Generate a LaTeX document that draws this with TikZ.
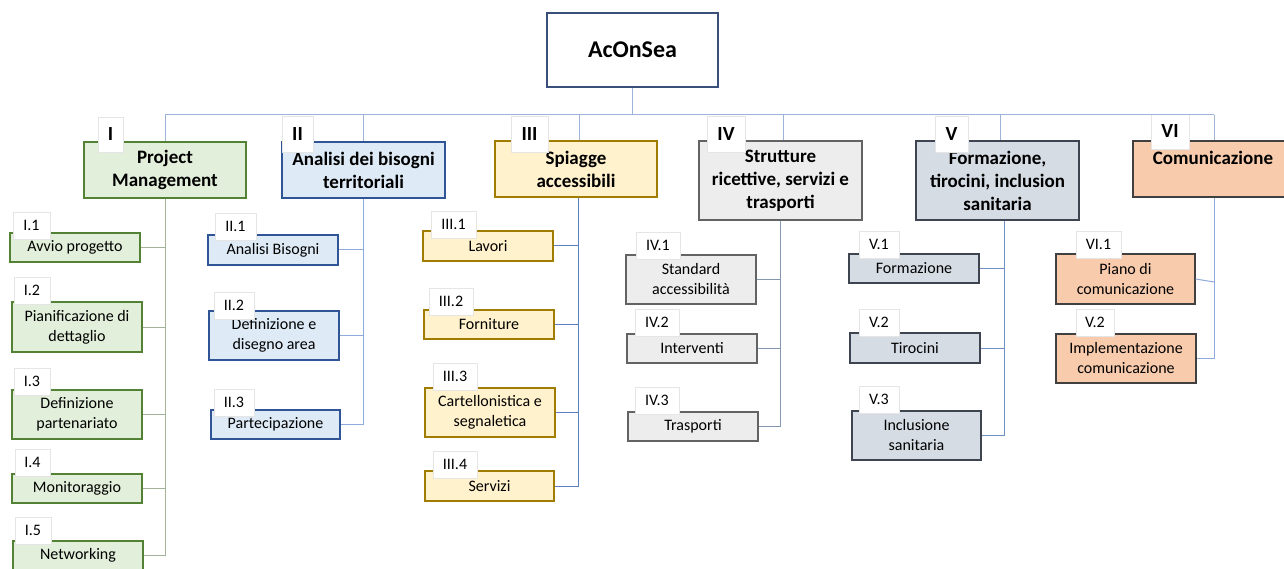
\documentclass[tikz,border=0pt]{standalone}
\usepackage{fontspec}
\setmainfont{Carlito}
\definecolor{fI}{HTML}{E2EFDA}\definecolor{dI}{HTML}{548235}
\definecolor{fII}{HTML}{DEEBF7}\definecolor{dII}{HTML}{2F5597}
\definecolor{fIII}{HTML}{FFF2CC}\definecolor{dIII}{HTML}{A07D00}
\definecolor{fIV}{HTML}{EDEDED}\definecolor{dIV}{HTML}{636363}
\definecolor{fV}{HTML}{D6DCE4}\definecolor{dV}{HTML}{3F4550}
\definecolor{fVI}{HTML}{F8CBAD}\definecolor{dVI}{HTML}{404040}
\definecolor{droot}{HTML}{3A4F7A}
\definecolor{cbus}{HTML}{9DB3D9}
\definecolor{cI}{HTML}{A3B39A}
\definecolor{cII}{HTML}{8FAADC}
\definecolor{cIII}{HTML}{5B7FC0}
\definecolor{cIV}{HTML}{8497B0}
\definecolor{cV}{HTML}{6F8FC8}
\definecolor{cVI}{HTML}{8FAADC}
\newcommand{\wbs}[7]{\node[#6, minimum width={(#4-#2)*1pt}, minimum height={(#5-#3)*1pt}] (#1) at ({(#2+#4)/2},{(#3+#5)/2}) {#7};}
\begin{document}
\begin{tikzpicture}[x=1pt,y=-1pt,
  box/.style={draw, line width=1.3pt, inner sep=0pt, align=center, font=\fontsize{16}{20}\selectfont},
  topbox/.style={box, font=\bfseries\fontsize{19}{23}\selectfont},
  rootbox/.style={box, draw=droot, fill=white, font=\bfseries\fontsize{24}{28}\selectfont},
  lab/.style={draw=black!10, fill=white, line width=0.6pt, inner sep=0pt, font=\fontsize{16}{20}\selectfont},
  toplab/.style={lab, font=\bfseries\fontsize{20}{24}\selectfont},
  gI/.style={fill=fI, draw=dI},
  gII/.style={fill=fII, draw=dII},
  gIII/.style={fill=fIII, draw=dIII},
  gIV/.style={fill=fIV, draw=dIV},
  gV/.style={fill=fV, draw=dV},
  gVI/.style={fill=fVI, draw=dVI},
  conn/.style={line width=1pt}]
\useasboundingbox (0,0) rectangle (1284,569);
\clip (0,0) rectangle (1284,569);
\fill[white] (0,0) rectangle (1284,569);
% root and top-level
\wbs{root}{547}{13}{718}{87}{rootbox}{AcOnSea}
\wbs{I}{84}{142}{246}{198}{topbox,gI}{Project\\Management}
\wbs{II}{282}{142}{445}{198}{topbox,gII}{Analisi dei bisogni\\territoriali}
\wbs{III}{495}{141}{657}{197}{topbox,gIII}{Spiagge\\accessibili}
\wbs{IV}{699}{141}{862}{220}{topbox,gIV}{Strutture\\ricettive, servizi e\\trasporti}
\wbs{V}{916}{141}{1079}{220}{topbox,gV}{Formazione,\\tirocini, inclusion\\sanitaria}
\wbs{VI}{1133}{141}{1293}{197}{topbox,gVI}{Comunicazione\\\mbox{}}
% sub boxes
\wbs{I1}{10}{233}{140}{262}{box,gI}{Avvio progetto}
\wbs{I2}{12}{302}{142}{352}{box,gI}{Pianificazione di\\dettaglio}
\wbs{I3}{12}{390}{142}{439}{box,gI}{Definizione\\partenariato}
\wbs{I4}{12}{474}{142}{503}{box,gI}{Monitoraggio}
\wbs{I5}{13}{541}{143}{570}{box,gI}{Networking}
\wbs{II1}{208}{235}{338}{265}{box,gII}{Analisi Bisogni}
\wbs{II2}{209}{311}{339}{360}{box,gII}{Definizione e\\disegno area}
\wbs{II3}{211}{410}{340}{439}{box,gII}{Partecipazione}
\wbs{III1}{423}{231}{553}{261}{box,gIII}{Lavori}
\wbs{III2}{424}{310}{554}{339}{box,gIII}{Forniture}
\wbs{III3}{425}{388}{555}{437}{box,gIII}{Cartellonistica e\\segnaletica}
\wbs{III4}{425}{471}{554}{501}{box,gIII}{Servizi}
\wbs{IV1}{626}{255}{756}{304}{box,gIV}{Standard\\accessibilità}
\wbs{IV2}{627}{334}{757}{363}{box,gIV}{Interventi}
\wbs{IV3}{628}{412}{758}{441}{box,gIV}{Trasporti}
\wbs{V1}{849}{254}{979}{283}{box,gV}{Formazione}
\wbs{V2}{850}{333}{980}{363}{box,gV}{Tirocini}
\wbs{V3}{852}{411}{981}{460}{box,gV}{Inclusione\\sanitaria}
\wbs{VI1}{1056}{254}{1195}{304}{box,gVI}{Piano di\\comunicazione}
\wbs{VI2}{1056}{334}{1196}{383}{box,gVI}{Implementazione\\comunicazione}
% labels
\wbs{LI}{98}{117}{123}{152}{toplab}{I}
\wbs{LII}{282}{116}{313}{152}{toplab}{II}
\wbs{LIII}{511}{116}{548}{152}{toplab}{III}
\wbs{LIV}{707}{116}{745}{152}{toplab}{IV}
\wbs{LV}{935}{116}{968}{152}{toplab}{V}
\wbs{LVI}{1151}{114}{1189}{149}{toplab}{VI}
\wbs{LI1}{13}{212}{50}{239}{lab}{I.1}
\wbs{LI2}{14}{277}{50}{304}{lab}{I.2}
\wbs{LI3}{14}{368}{50}{395}{lab}{I.3}
\wbs{LI4}{15}{449}{50}{476}{lab}{I.4}
\wbs{LI5}{15}{517}{51}{544}{lab}{I.5}
\wbs{LII1}{215}{213}{256}{240}{lab}{II.1}
\wbs{LII2}{214}{292}{254}{319}{lab}{II.2}
\wbs{LII3}{214}{389}{254}{416}{lab}{II.3}
\wbs{LIII1}{431}{211}{476}{238}{lab}{III.1}
\wbs{LIII2}{429}{288}{473}{315}{lab}{III.2}
\wbs{LIII3}{433}{363}{477}{390}{lab}{III.3}
\wbs{LIII4}{433}{451}{477}{478}{lab}{III.4}
\wbs{LIV1}{636}{232}{680}{259}{lab}{IV.1}
\wbs{LIV2}{635}{309}{679}{336}{lab}{IV.2}
\wbs{LIV3}{635}{387}{679}{414}{lab}{IV.3}
\wbs{LV1}{859}{231}{899}{258}{lab}{V.1}
\wbs{LV2}{859}{309}{899}{336}{lab}{V.2}
\wbs{LV3}{859}{386}{899}{413}{lab}{V.3}
\wbs{LVI1}{1076}{231}{1121}{258}{lab}{VI.1}
\wbs{LVI2}{1076}{309}{1114}{336}{lab}{V.2}
% connector coordinates
\coordinate (bus) at (0,115);
\coordinate (dI) at (165,0);   \coordinate (tI) at (165,0);
\coordinate (dII) at (363,0);  \coordinate (tII) at (363,0);
\coordinate (dIII) at (579,0); \coordinate (tIII) at (578,0);
\coordinate (dIV) at (783,0);  \coordinate (tIV) at (780,0);
\coordinate (dV) at (1000,0);  \coordinate (tV) at (1004,0);
\coordinate (dVI) at (1214,0); \coordinate (tVI) at (1214,0);
% top bus
\draw[conn,cbus] (root.south) -- (root.south |- bus);
\draw[conn,cbus] (dI |- bus) -- (dVI |- bus);
\foreach \n in {I,II,III,IV,V,VI}
  \draw[conn,cbus] (d\n |- bus) -- (d\n |- \n.north);
% column trunks
\draw[conn,cI] (tI |- I.south) -- (tI |- I5.east) -- (I5.east);
\foreach \k in {1,2,3,4} \draw[conn,cI] (I\k.east) -- (I\k.east -| tI);
\draw[conn,cII] (tII |- II.south) -- (tII |- II3.east) -- (II3.east);
\foreach \k in {1,2} \draw[conn,cII] (II\k.east) -- (II\k.east -| tII);
\draw[conn,cIII] (tIII |- III.south) -- (tIII |- III4.east) -- (III4.east);
\foreach \k in {1,2,3} \draw[conn,cIII] (III\k.east) -- (III\k.east -| tIII);
\draw[conn,cIV] (tIV |- IV.south) -- (tIV |- IV3.east) -- (IV3.east);
\foreach \k in {1,2} \draw[conn,cIV] (IV\k.east) -- (IV\k.east -| tIV);
\draw[conn,cV] (tV |- V.south) -- (tV |- V3.east) -- (V3.east);
\foreach \k in {1,2} \draw[conn,cV] (V\k.east) -- (V\k.east -| tV);
\draw[conn,cVI] (tVI |- VI.south) -- (tVI |- VI2.east) -- (VI2.east);
\draw[conn,cVI] (VI1.east) -- ([yshift=-3pt]VI1.east -| tVI);
\end{tikzpicture}
\end{document}
